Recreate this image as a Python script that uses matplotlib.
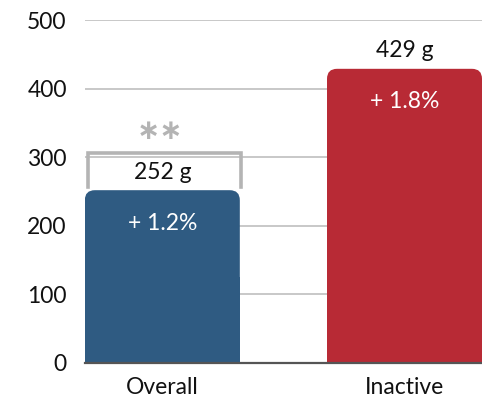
import matplotlib
matplotlib.use("Agg")
import matplotlib.pyplot as plt
from matplotlib.patches import FancyBboxPatch

categories = ["Overall", "Inactive"]
values = [252, 429]
value_labels = ["252 g", "429 g"]
change_labels = ["+ 1.2%", "+ 1.8%"]
colors = ["#2f5b82", "#b82a35"]
yticks = [0, 100, 200, 300, 400, 500]
sig_label = "∗∗"

plt.rcParams['font.family'] = ['Lato', 'DejaVu Sans']

fig = plt.figure(figsize=(4.82, 4.01), dpi=100)
ax = fig.add_axes([0.176, 0.0948, 0.824, 0.855])

width = 0.64
ax.set_xlim(-0.32, 1.32)
ax.set_ylim(0, 500)
ax.set_yticks(yticks)
ax.yaxis.grid(True, color="#c4c4c4", linewidth=1.3)
ax.set_axisbelow(True)

xpp = (1.32 + 0.32) / (0.824 * 482)
ypp = 500 / (0.855 * 401)
rad_px = 10
fs = 16.5
for i, (v, c) in enumerate(zip(values, colors)):
    ax.bar(i, v / 2, width=width, color=c, zorder=2)
    x0 = i - width / 2
    p = FancyBboxPatch((x0, 0), width, v,
                       boxstyle=f"round,pad=0,rounding_size={rad_px * xpp}",
                       mutation_aspect=ypp / xpp, facecolor=c, edgecolor="none", zorder=2)
    ax.add_patch(p)
    ax.text(i, v + 11, value_labels[i], ha="center", va="bottom", fontsize=fs, color="#111111", zorder=4)
    ax.text(i, v - 48, change_labels[i], ha="center", va="center", fontsize=fs, color="white", zorder=4)

# significance bracket over first bar
bx0 = 0 - width / 2 + 0.015
bx1 = 0 + width / 2 + 0.005
ytop = 306
ybot = 256
ax.plot([bx0, bx0, bx1, bx1], [ybot, ytop, ytop, ybot], color="#b4b4b4", linewidth=2.6,
        solid_joinstyle="miter", zorder=3, clip_on=False)
ax.text(-0.01, ytop + 32, sig_label, ha="center", va="center", fontsize=20, fontweight="bold",
        color="#b4b4b4", zorder=4, family=["DejaVu Sans"])

for s in ["left", "right", "top"]:
    ax.spines[s].set_visible(False)
ax.spines["bottom"].set_color("#555555")
ax.spines["bottom"].set_linewidth(1.6)
ax.spines["bottom"].set_zorder(3)

ax.set_xticks(range(len(categories)))
ax.set_xticklabels(categories)
ax.tick_params(axis="x", length=0, pad=10, labelsize=fs, labelcolor="#111111")
ax.tick_params(axis="y", length=0, pad=13, labelsize=fs, labelcolor="#111111")

fig.savefig("out.png", dpi=100)
